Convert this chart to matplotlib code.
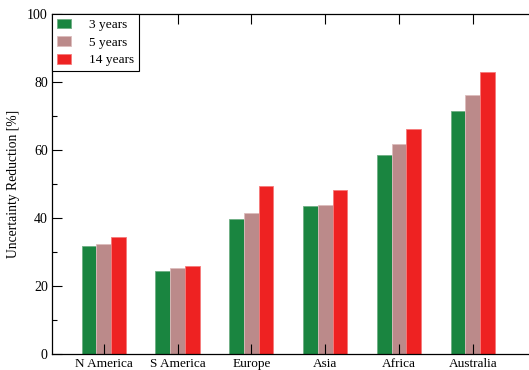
import matplotlib
matplotlib.use("Agg")
import matplotlib.pyplot as plt
import numpy as np
from matplotlib.ticker import MultipleLocator

categories = ["N America", "S America", "Europe", "Asia", "Africa", "Australia"]
series_names = ["3 years", "5 years", "14 years"]
vals_3 = [31.7, 24.5, 39.7, 43.4, 58.6, 71.5]
vals_5 = [32.4, 25.2, 41.6, 43.9, 61.9, 76.3]
vals_14 = [34.5, 25.9, 49.3, 48.3, 66.2, 82.9]

colors = ["#1a8540", "#bb8a8a", "#ee2222"]
edges = ["#6fae84", "#dcbcbc", "#f57a7a"]

plt.rcParams['font.family'] = ['Liberation Serif', 'DejaVu Serif']

fig = plt.figure(figsize=(5.29, 3.70), dpi=100)
ax = fig.add_axes([52/529, 16/370, (540-52)/529, (354-14)/370])
ax.set_axisbelow(False)

x = np.arange(1, len(categories) + 1)
w = 0.2
for i, (vals, name) in enumerate(zip([vals_3, vals_5, vals_14], series_names)):
    ax.bar(x + (i - 1) * w, vals, width=w, color=colors[i], edgecolor=edges[i],
           linewidth=0.6, label=name, zorder=1)

ax.set_xlim(0.3, 6.91)
ax.set_ylim(0, 100)
ax.set_xticks(x)
ax.set_xticklabels(categories, fontsize=9.5)
ax.yaxis.set_major_locator(MultipleLocator(20))
ax.yaxis.set_minor_locator(MultipleLocator(10))
ax.tick_params(axis='y', which='major', direction='in', length=7, width=0.8,
               labelsize=10, right=True, pad=3)
ax.tick_params(axis='y', which='minor', direction='in', length=3.5, width=0.8, right=True)
ax.tick_params(axis='x', which='major', direction='in', length=7, width=0.8,
               top=True, labelsize=9.5, pad=3)
for s in ax.spines.values():
    s.set_linewidth(0.9)
ax.set_ylabel("Uncertainty Reduction [%]", fontsize=9.8, labelpad=5)

leg = ax.legend(loc='upper left', fontsize=9.6, frameon=True, fancybox=False,
                borderaxespad=0, handlelength=1.1, handleheight=0.75,
                handletextpad=1.35, borderpad=0.35, labelspacing=0.38,
                framealpha=1)
leg.get_frame().set_edgecolor('black')
leg.get_frame().set_linewidth(0.8)

fig.savefig("out.png", dpi=100)
